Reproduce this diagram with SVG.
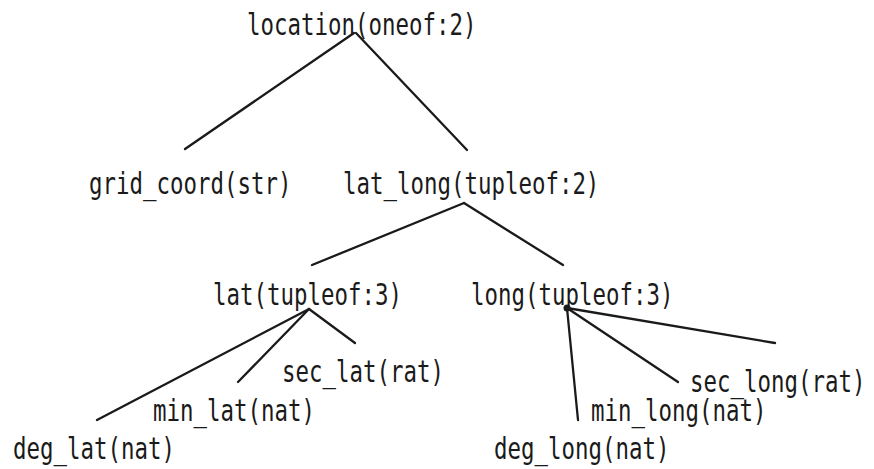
<svg xmlns="http://www.w3.org/2000/svg" width="874" height="469" viewBox="0 0 874 469">
<style>
text{font-family:"DejaVu Sans Mono","Liberation Mono",monospace;font-size:30px;fill:#1a1a1a}
.c line{stroke:#1a1a1a;stroke-width:2.3;stroke-linecap:round}
</style>
<rect width="874" height="469" fill="#fff"/>
<g class="c" id="connectors">
<line x1="354" y1="33" x2="185" y2="149"/>
<line x1="356" y1="33" x2="467" y2="150"/>
<line x1="464" y1="203" x2="312" y2="265"/>
<line x1="464" y1="203" x2="563" y2="265"/>
<line x1="309" y1="309" x2="97" y2="420"/>
<line x1="309" y1="309" x2="238" y2="382"/>
<line x1="309" y1="309" x2="355" y2="343"/>
<line x1="567" y1="308" x2="578" y2="420"/>
<line x1="567" y1="308" x2="678" y2="382"/>
<line x1="567" y1="308" x2="775" y2="343"/>
<circle cx="567" cy="308" r="3.5" fill="#1a1a1a"/>
</g>
<g id="location"><text transform="translate(247 35) scale(0.7475 1)">location(oneof:2)</text></g>
<g id="grid_coord"><text transform="translate(89 194) scale(0.7475 1)">grid_coord(str)</text></g>
<g id="lat_long"><text transform="translate(343 194) scale(0.7475 1)">lat_long(tupleof:2)</text></g>
<g id="lat"><text transform="translate(213 305) scale(0.7475 1)">lat(tupleof:3)</text></g>
<g id="long"><text transform="translate(471 305) scale(0.7475 1)">long(tupleof:3)</text></g>
<g id="sec_lat"><text transform="translate(282 382) scale(0.7475 1)">sec_lat(rat)</text></g>
<g id="min_lat"><text transform="translate(153 421) scale(0.7475 1)">min_lat(nat)</text></g>
<g id="deg_lat"><text transform="translate(13 459) scale(0.7475 1)">deg_lat(nat)</text></g>
<g id="deg_long"><text transform="translate(494 459) scale(0.7475 1)">deg_long(nat)</text></g>
<g id="min_long"><text transform="translate(591 421) scale(0.7475 1)">min_long(nat)</text></g>
<g id="sec_long"><text transform="translate(690 392) scale(0.7475 1)">sec_long(rat)</text></g>
</svg>
